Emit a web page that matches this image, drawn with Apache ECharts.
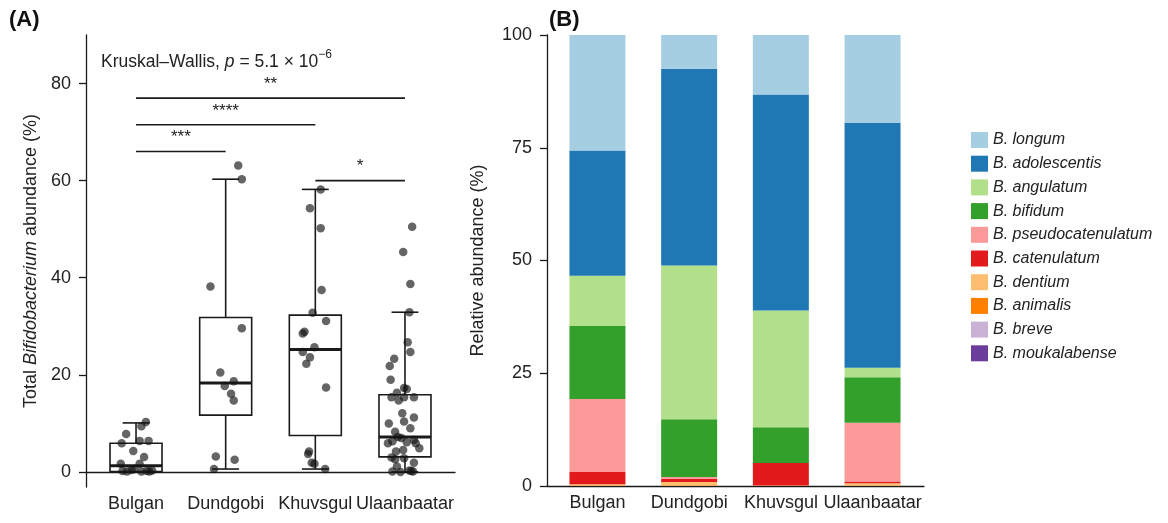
<!DOCTYPE html>
<html>
<head>
<meta charset="utf-8">
<script src="https://cdn.jsdelivr.net/npm/echarts@6/dist/echarts.min.js"></script>
<style>html,body{margin:0;padding:0;background:#fff}#main{width:1168px;height:523px}</style>
</head>
<body>
<div id="main"></div>
<script>
var regions = ['Bulgan', 'Dundgobi', 'Khuvsgul', 'Ulaanbaatar'];

// panel A: box statistics as drawn (min, Q1, median, Q3, max)
var boxMin = [0.0, 0.6, 0.6, 0.0];
var boxQ1 = [0.1, 11.7, 7.5, 3.1];
var boxMed = [1.3, 18.3, 25.2, 7.2];
var boxQ3 = [5.9, 31.8, 32.3, 15.9];
var boxMax = [10.1, 60.3, 58.2, 32.9];

// panel A: samples (value, horizontal jitter in category units)
var bulganVal = [10.3, 9.4, 7.8, 5.9, 6.4, 6.4, 4.3, 3.1, 1.7, 1.7, 0.2, 0.4, 0.6, 0.1, 0.2, 0.1, 0.1, 0.3];
var bulganJit = [0.11, 0.06, -0.11, -0.16, 0.04, 0.14, -0.03, 0.09, -0.17, 0.04, -0.15, -0.05, -0.02, 0.06, 0.12, 0.15, -0.10, 0.18];
var dundgobiVal = [63.1, 60.3, 38.2, 29.6, 20.5, 18.7, 17.7, 16.1, 14.7, 3.2, 2.5, 0.6];
var dundgobiJit = [0.14, 0.18, -0.17, 0.18, -0.06, 0.09, -0.01, 0.06, 0.09, -0.11, 0.10, -0.13];
var khuvsgulVal = [58.2, 54.3, 50.2, 37.5, 32.8, 31.1, 28.9, 28.5, 25.7, 24.7, 23.6, 22.3, 17.4, 4.2, 3.7, 1.9, 1.7, 0.6];
var khuvsgulJit = [0.06, -0.06, 0.06, 0.07, -0.03, 0.12, -0.12, -0.14, -0.01, -0.14, -0.06, -0.10, 0.12, -0.07, -0.08, -0.04, -0.01, 0.11];
var ulaanVal = [50.5, 45.3, 38.7, 32.9, 26.7, 24.7, 23.3, 21.8, 19.0, 17.3, 17.1, 16.3, 15.4, 14.7, 15.4, 15.4, 12.1, 11.2, 10.4, 10.0, 9.0,
  8.3, 7.2, 7.0, 5.9, 6.3, 6.1, 6.6, 5.9, 4.9, 4.2, 4.5, 3.0, 2.6, 2.8, 1.9, 1.1, 0.2, 0.1, 0.0, 0.1, 0.3];
var ulaanJit = [0.08, -0.02, 0.06, 0.05, 0.03, 0.06, -0.12, -0.17, -0.16, -0.01, 0.02, -0.09, -0.15, -0.07, -0.01, 0.10, -0.03, 0.10, -0.01, -0.18, 0.06,
  -0.11, -0.08, -0.04, -0.19, -0.14, 0.02, 0.10, 0.12, 0.16, -0.10, -0.02, -0.15, -0.11, -0.01, 0.10, -0.09, 0.07, -0.14, -0.05, 0.09, 0.05];

// significance brackets
var bracketFrom = [1, 1, 1, 3];
var bracketTo = [2, 3, 4, 4];
var bracketY = [66.0, 71.5, 77.0, 60.0];
var bracketStars = ['***', '****', '**', '*'];

// panel B: relative abundance (%) per region
var species = ['B. longum', 'B. adolescentis', 'B. angulatum', 'B. bifidum', 'B. pseudocatenulatum',
  'B. catenulatum', 'B. dentium', 'B. animalis', 'B. breve', 'B. moukalabense'];
var longum = [25.6, 7.5, 13.2, 19.5];
var adolescentis = [27.8, 43.6, 47.9, 54.3];
var angulatum = [11.1, 34.1, 25.9, 2.1];
var bifidum = [16.2, 12.8, 7.9, 10.1];
var pseudocatenulatum = [16.2, 0.4, 0.0, 13.0];
var catenulatum = [2.7, 0.7, 5.0, 0.4];
var dentium = [0.3, 0.8, 0.1, 0.5];
var animalis = [0.1, 0.1, 0.0, 0.1];
var breve = [0, 0, 0, 0];
var moukalabense = [0, 0, 0, 0];
var speciesData = [longum, adolescentis, angulatum, bifidum, pseudocatenulatum, catenulatum, dentium, animalis, breve, moukalabense];
var colors = ['#a6cee3', '#1f78b4', '#b2df8a', '#33a02c', '#fb9a99', '#e31a1c', '#fdbf6f', '#ff7f00', '#cab2d6', '#6a3d9a'];

var ink = '#1a1a1a';
var txt = '#222';

var myChart = echarts.init(document.getElementById('main'));

var boxData = [];
for (var i = 0; i < regions.length; i++) {
  boxData.push([i + 1, boxMin[i], boxQ1[i], boxMed[i], boxQ3[i], boxMax[i]]);
}
var pts = [];
function addPts(k, vals, jit) {
  for (var j = 0; j < vals.length; j++) pts.push([k + jit[j], vals[j]]);
}
addPts(1, bulganVal, bulganJit);
addPts(2, dundgobiVal, dundgobiJit);
addPts(3, khuvsgulVal, khuvsgulJit);
addPts(4, ulaanVal, ulaanJit);

var brData = [];
for (var b = 0; b < bracketFrom.length; b++) brData.push([bracketFrom[b], bracketTo[b], bracketY[b], b]);

function renderBox(params, api) {
  var x = api.value(0);
  var pMin = api.coord([x, api.value(1)]);
  var pQ1 = api.coord([x, api.value(2)]);
  var pMed = api.coord([x, api.value(3)]);
  var pQ3 = api.coord([x, api.value(4)]);
  var pMax = api.coord([x, api.value(5)]);
  var bw = api.size([0.58, 0])[0];
  var cw = api.size([0.30, 0])[0];
  var cx = pMed[0];
  var ls = {stroke: ink, lineWidth: 1.6};
  return {type: 'group', children: [
    {type: 'line', shape: {x1: cx, y1: pMax[1], x2: cx, y2: pQ3[1]}, style: ls},
    {type: 'line', shape: {x1: cx, y1: pQ1[1], x2: cx, y2: pMin[1]}, style: ls},
    {type: 'line', shape: {x1: cx - cw / 2, y1: pMax[1], x2: cx + cw / 2, y2: pMax[1]}, style: ls},
    {type: 'line', shape: {x1: cx - cw / 2, y1: pMin[1], x2: cx + cw / 2, y2: pMin[1]}, style: ls},
    {type: 'rect', shape: {x: cx - bw / 2, y: pQ3[1], width: bw, height: pQ1[1] - pQ3[1]}, style: {fill: '#fff', stroke: ink, lineWidth: 1.6}},
    {type: 'line', shape: {x1: cx - bw / 2, y1: pMed[1], x2: cx + bw / 2, y2: pMed[1]}, style: {stroke: ink, lineWidth: 3}}
  ]};
}

function renderBracket(params, api) {
  var p1 = api.coord([api.value(0), api.value(2)]);
  var p2 = api.coord([api.value(1), api.value(2)]);
  return {type: 'group', children: [
    {type: 'line', shape: {x1: p1[0], y1: p1[1], x2: p2[0], y2: p2[1]}, style: {stroke: ink, lineWidth: 1.6}},
    {type: 'text', x: (p1[0] + p2[0]) / 2, y: p1[1] - 14,
      style: {text: bracketStars[api.value(3)], fill: txt, fontSize: 17, fontFamily: 'Liberation Sans', align: 'center', verticalAlign: 'middle'}}
  ]};
}

function renderNote(params, api) {
  var p = api.coord([api.value(0), api.value(1)]);
  return {type: 'text', x: p[0], y: p[1],
    style: {
      text: '{a|Kruskal–Wallis, }{i|p}{a| = 5.1 × 10}{s|−6}',
      align: 'left', verticalAlign: 'middle',
      rich: {
        a: {fontSize: 17.5, fill: txt, fontFamily: 'Liberation Sans', lineHeight: 22, verticalAlign: 'bottom'},
        i: {fontSize: 17.5, fill: txt, fontStyle: 'italic', fontFamily: 'Liberation Sans', lineHeight: 22, verticalAlign: 'bottom'},
        s: {fontSize: 12, fill: txt, fontFamily: 'Liberation Sans', lineHeight: 22, verticalAlign: 'top'}
      }
    }};
}

// bars live in a hidden category grid laid exactly over the visible axes of panel B
var barSeries = [];
for (var s = species.length - 1; s >= 0; s--) {
  barSeries.push({
    name: species[s],
    type: 'bar',
    xAxisIndex: 2,
    yAxisIndex: 2,
    stack: 'abund',
    barWidth: 56,
    itemStyle: {color: colors[s]},
    data: speciesData[s]
  });
}

var axisCommon = {
  axisLine: {show: true, lineStyle: {color: ink, width: 1.3}},
  splitLine: {show: false}
};

option = {
  animation: false,
  textStyle: {fontFamily: 'Liberation Sans, Arial, sans-serif'},
  title: [
    {text: '(A)', left: 9, top: 9, padding: 0, textStyle: {fontSize: 22, fontWeight: 'bold', color: '#111'}},
    {text: '(B)', left: 549, top: 9, padding: 0, textStyle: {fontSize: 22, fontWeight: 'bold', color: '#111'}}
  ],
  grid: [
    {left: 86, top: 35, width: 369, height: 452, outerBoundsMode: 'none', containLabel: false},
    {left: 547, top: 35, width: 377, height: 451, outerBoundsMode: 'none', containLabel: false},
    {left: 551.6, top: 35, width: 366.8, height: 451, outerBoundsMode: 'none', containLabel: false}
  ],
  legend: {
    orient: 'vertical',
    left: 971,
    top: 132,
    padding: 0,
    icon: 'rect',
    itemWidth: 17,
    itemHeight: 16,
    itemGap: 7.7,
    textStyle: {fontSize: 16, fontStyle: 'italic', color: txt},
    data: species
  },
  xAxis: [
    Object.assign({gridIndex: 0, type: 'value', min: 0.442, max: 4.558,
      axisTick: {show: false},
      axisLabel: {customValues: [1, 2, 3, 4], formatter: function (v) { return regions[Math.round(v) - 1]; },
        fontSize: 18, color: txt, margin: 8}}, axisCommon),
    Object.assign({gridIndex: 1, type: 'value', min: 0.45, max: 4.56,
      axisTick: {show: false},
      axisLabel: {customValues: [1, 2, 3, 4], formatter: function (v) { return regions[Math.round(v) - 1]; },
        fontSize: 18, color: txt, margin: 8}}, axisCommon),
    {gridIndex: 2, type: 'category', data: regions, boundaryGap: true, show: false}
  ],
  yAxis: [
    Object.assign({gridIndex: 0, type: 'value', min: -3.1, max: 90,
      axisTick: {show: true, length: 7, lineStyle: {color: ink, width: 1.3}, customValues: [0, 20, 40, 60, 80]},
      axisLabel: {customValues: [0, 20, 40, 60, 80], fontSize: 18, color: txt, margin: 15},
      name: 'Total {i|Bifidobacterium} abundance (%)',
      nameLocation: 'middle', nameGap: 46, nameRotate: 90, nameMoveOverlap: false,
      nameTextStyle: {fontSize: 18, color: txt, rich: {i: {fontSize: 18, fontStyle: 'italic', color: txt}}}}, axisCommon),
    Object.assign({gridIndex: 1, type: 'value', min: 0, max: 100, interval: 25,
      axisTick: {show: true, length: 7, lineStyle: {color: ink, width: 1.3}},
      axisLabel: {fontSize: 18, color: txt, margin: 15},
      name: 'Relative abundance (%)',
      nameLocation: 'middle', nameGap: 60, nameRotate: 90, nameMoveOverlap: false,
      nameTextStyle: {fontSize: 18, color: txt}}, axisCommon),
    {gridIndex: 2, type: 'value', min: 0, max: 100, show: false, splitLine: {show: false}}
  ],
  series: [
    {type: 'custom', xAxisIndex: 0, yAxisIndex: 0, renderItem: renderBox, data: boxData, z: 2, clip: false},
    {type: 'scatter', xAxisIndex: 0, yAxisIndex: 0, data: pts, symbolSize: 8.5, z: 3,
      itemStyle: {color: 'rgba(20,20,20,0.82)', borderWidth: 0}},
    {type: 'custom', xAxisIndex: 0, yAxisIndex: 0, renderItem: renderBracket, data: brData, z: 4, clip: false},
    {type: 'custom', xAxisIndex: 0, yAxisIndex: 0, renderItem: renderNote, data: [[0.609, 84.9]], z: 4, clip: false}
  ].concat(barSeries)
};

myChart.setOption(option);
</script>
</body>
</html>
